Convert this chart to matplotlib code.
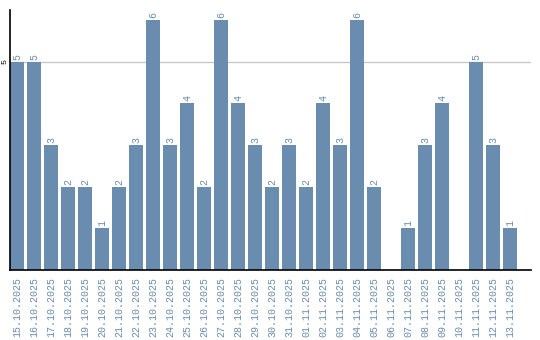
import matplotlib
matplotlib.use("Agg")
import matplotlib.pyplot as plt

dates = ["15.10.2025", "16.10.2025", "17.10.2025", "18.10.2025", "19.10.2025",
         "20.10.2025", "21.10.2025", "22.10.2025", "23.10.2025", "24.10.2025",
         "25.10.2025", "26.10.2025", "27.10.2025", "28.10.2025", "29.10.2025",
         "30.10.2025", "31.10.2025", "01.11.2025", "02.11.2025", "03.11.2025",
         "04.11.2025", "05.11.2025", "06.11.2025", "07.11.2025", "08.11.2025",
         "09.11.2025", "10.11.2025", "11.11.2025", "12.11.2025", "13.11.2025"]
values = [5, 5, 3, 2, 2, 1, 2, 3, 6, 3, 4, 2, 6, 4, 3, 2, 3, 2, 4, 3, 6, 2, 0, 1, 3, 4, 0, 5, 3, 1]

color = "#6a8caf"
font = "Liberation Mono"

fig = plt.figure(figsize=(5.4, 3.4), dpi=100)
ax = fig.add_axes([10/540, 70/340, 521/540, 260/340])

x = list(range(len(values)))
ax.bar(x, values, width=0.82, color=color, zorder=2)
ax.set_xlim(-0.41, 30.235)
ax.set_ylim(0, 6.24)

ax.axhline(5, color="#c8c8c8", lw=1, zorder=1)
ax.set_yticks([5])
ax.set_yticklabels(["5"], rotation=90, va="center", fontsize=6, family=font)
ax.tick_params(axis="y", length=0, pad=1)

ax.set_xticks(x)
ax.set_xticklabels(dates, rotation=90, fontsize=7.2, family=font, color=color)
ax.tick_params(axis="x", length=0, pad=5)

for xi, v in zip(x, values):
    if v > 0:
        ax.text(xi, v + 0.05, str(v), rotation=90, ha="center", va="bottom",
                fontsize=7.2, family=font, color=color)

for s in ["top", "right"]:
    ax.spines[s].set_visible(False)
ax.spines["left"].set_linewidth(1.2)
ax.spines["bottom"].set_linewidth(1.2)

fig.savefig("out.png", dpi=100)
